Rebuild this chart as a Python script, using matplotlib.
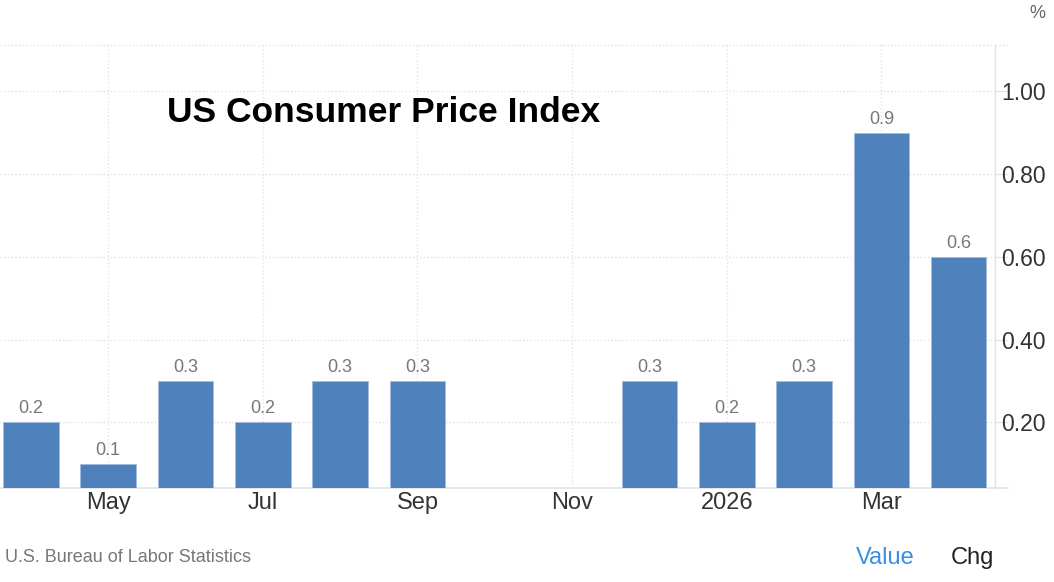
import matplotlib.pyplot as plt
import numpy as np

plt.rcParams['font.family'] = ['Liberation Sans', 'DejaVu Sans']

# monthly CPI change, Apr 2025 - Apr 2026 (Oct/Nov not published)
months = ['Apr', 'May', 'Jun', 'Jul', 'Aug', 'Sep', 'Oct', 'Nov',
          'Dec', '2026', 'Feb', 'Mar', 'Apr']
values = [0.2, 0.1, 0.3, 0.2, 0.3, 0.3, None, None, 0.3, 0.2, 0.3, 0.9, 0.6]
tick_idx = [1, 3, 5, 7, 9, 11]
yticks = [0.20, 0.40, 0.60, 0.80, 1.00]

bar_color = '#4f81bd'
grid_color = '#e3e3e3'

fig = plt.figure(figsize=(10.54, 5.82), dpi=100)
ax = fig.add_axes([0.0, 1 - 488 / 582, 995 / 1054, (488 - 45) / 582])

x = np.arange(len(months))
for i, v in enumerate(values):
    if v is None:
        continue
    ax.bar(i, v, width=0.72, color=bar_color, edgecolor='#9fbbdd',
           linewidth=0.6, zorder=3)
    ax.text(i, v + 0.012, f'{v:.1f}', ha='center', va='bottom',
            fontsize=13, color='#777777', zorder=4)

ax.set_xlim(-0.40, 12.47)
ax.set_ylim(0.041, 1.112)

ax.set_xticks([x[i] for i in tick_idx])
ax.set_xticklabels([months[i] for i in tick_idx], fontsize=17, color='#333333')
ax.tick_params(axis='x', length=0, pad=3)

ax.yaxis.tick_right()
ax.set_yticks(yticks)
ax.set_yticklabels([f'{t:.2f}' for t in yticks], fontsize=16.5, color='#333333')
ax.tick_params(axis='y', length=9.5, width=0.8, color=grid_color, pad=-5)

ax.grid(True, color=grid_color, linestyle=':', linewidth=1.0, zorder=0)

for side in ['left', 'top']:
    ax.spines[side].set_visible(False)
ax.spines['right'].set_color(grid_color)
ax.spines['right'].set_linewidth(1.0)
ax.spines['bottom'].set_color(grid_color)
ax.spines['bottom'].set_linewidth(1.2)
# top border drawn dotted like the grid
ax.axhline(1.112, color=grid_color, linestyle=':', linewidth=1.0, clip_on=False)
# baseline runs a little past the right border
ax.plot([12.47, 12.64], [0.041, 0.041], color=grid_color, linewidth=1.2,
        clip_on=False)
ax.plot([12.47, 12.64], [1.112, 1.112], color=grid_color, linestyle=':',
        linewidth=1.0, clip_on=False)

fig.text(167 / 1054, 1 - 113 / 582, 'US Consumer Price Index', fontsize=25.5,
         fontweight='bold', color='black', ha='left', va='center')
fig.text(1037 / 1054, 1 - 13 / 582, '%', fontsize=13, color='#666666',
         ha='center', va='center')
fig.text(5 / 1054, 1 - 558 / 582, 'U.S. Bureau of Labor Statistics',
         fontsize=13, color='#777777', ha='left', va='center')
fig.text(885 / 1054, 1 - 558 / 582, 'Value', fontsize=17, color='#3a8ee6',
         ha='center', va='center')
fig.text(972 / 1054, 1 - 558 / 582, 'Chg', fontsize=17, color='#222222',
         ha='center', va='center')

fig.savefig('out.png', dpi=100)
